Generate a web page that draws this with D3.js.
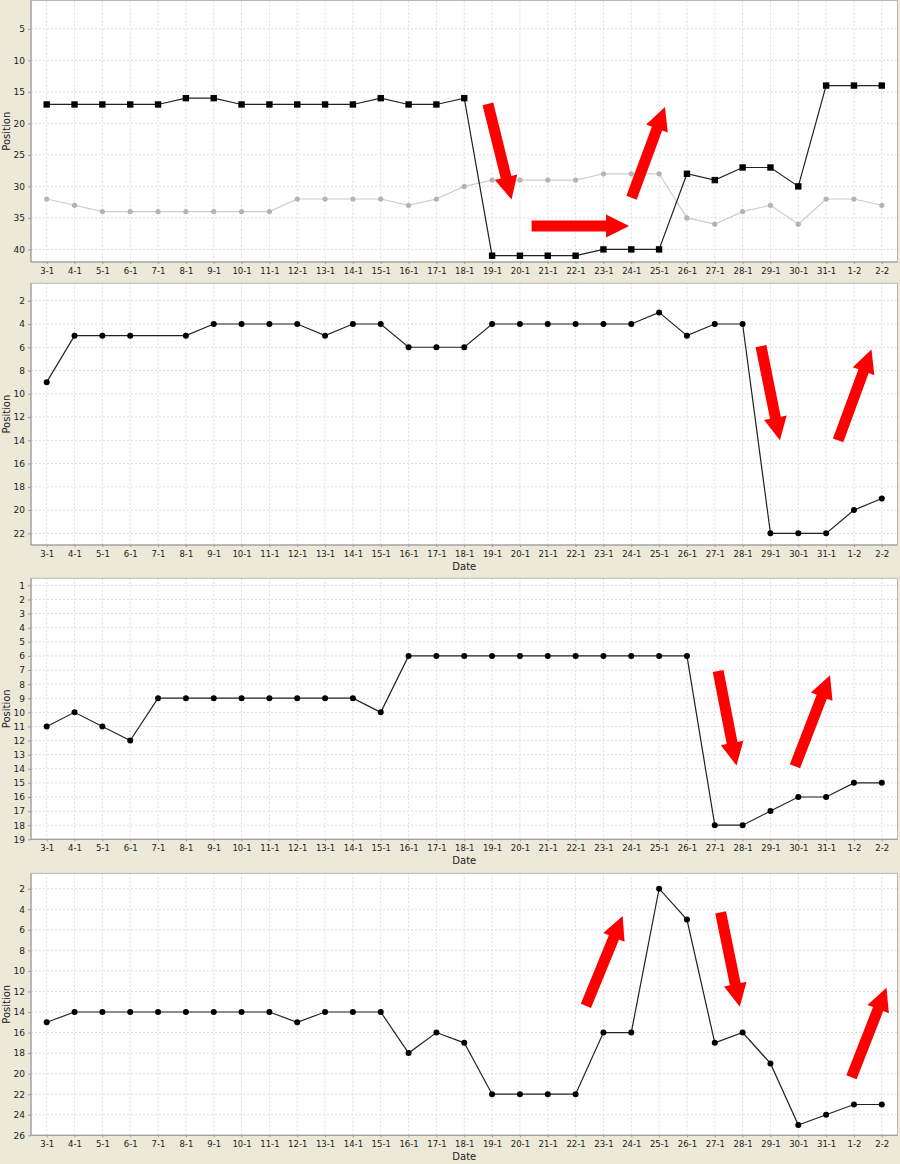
<!DOCTYPE html>
<html>
<head>
<meta charset="utf-8">
<script src="https://cdn.jsdelivr.net/npm/d3@7"></script>
<style>
  html, body { margin: 0; padding: 0; background: #ECE9D8; }
  svg { display: block; }
  text { font-family: "DejaVu Sans", "Liberation Sans", sans-serif; }
</style>
</head>
<body>
<svg id="chart" width="900" height="1164"></svg>
<script>
// ---------- DATA ----------
const categories = ["3-1","4-1","5-1","6-1","7-1","8-1","9-1","10-1","11-1","12-1","13-1","14-1","15-1","16-1","17-1","18-1","19-1","20-1","21-1","22-1","23-1","24-1","25-1","26-1","27-1","28-1","29-1","30-1","31-1","1-2","2-2"];

// Panel 1 (two series)
const panel1Black = [17,17,17,17,17,16,16,17,17,17,17,17,16,17,17,16,41,41,41,41,40,40,40,28,29,27,27,30,14,14,14];
const panel1Grey  = [32,33,34,34,34,34,34,34,34,32,32,32,32,33,32,30,29,29,29,29,28,28,28,35,36,34,33,36,32,32,33];
// Panel 2 (7-1 missing)
const panel2Values = [9,5,5,5,null,5,4,4,4,4,5,4,4,6,6,6,4,4,4,4,4,4,3,5,4,4,22,22,22,20,19];
// Panel 3
const panel3Values = [11,10,11,12,9,9,9,9,9,9,9,9,10,6,6,6,6,6,6,6,6,6,6,6,18,18,17,16,16,15,15];
// Panel 4
const panel4Values = [15,14,14,14,14,14,14,14,14,15,14,14,14,18,16,17,22,22,22,22,16,16,2,5,17,16,19,25,24,23,23];

// Tick labels
const yTicks1 = [5,10,15,20,25,30,35,40];
const yTicks2 = [2,4,6,8,10,12,14,16,18,20,22];
const yTicks3 = [1,2,3,4,5,6,7,8,9,10,11,12,13,14,15,16,17,18,19];
const yTicks4 = [2,4,6,8,10,12,14,16,18,20,22,24,26];

// Annotation arrows: [startIndex, startValue, tipIndex, tipValue]
const arrows1 = [[15.85,16.9,16.70,32.1],[17.42,36.3,20.92,36.3],[21.01,31.8,22.21,17.4]];
const arrows2 = [[25.66,5.9,26.34,14.0],[28.43,14.0,29.63,6.2]];
const arrows3 = [[24.12,7.07,24.78,13.77],[26.88,13.82,28.14,7.37]];
const arrows4 = [[19.37,13.41,20.69,4.66],[24.21,4.30,24.90,13.48],[28.91,20.35,30.17,11.63]];

// ---------- LAYOUT ----------
const svg = d3.select("#chart");
const plotLeft = 31, plotRight = 897.5;

const panels = [
  { top: 0.5,   bottom: 262,    domain: [0.5, 42], ticks: yTicks1, date: false,
    series: [
      { values: panel1Grey,  color: "#cccccc", marker: "#b4b4b4", shape: "circle", r: 2.6, width: 1.2 },
      { values: panel1Black, color: "#222", marker: "#000", shape: "square", r: 3.2, width: 1.2 }
    ], arrows: arrows1 },
  { top: 283.3, bottom: 545,    domain: [0.5, 23], ticks: yTicks2, date: true,
    series: [{ values: panel2Values, color: "#222", marker: "#000", shape: "circle", r: 3, width: 1.2 }], arrows: arrows2 },
  { top: 578.3, bottom: 839.3,  domain: [0.5, 19], ticks: yTicks3, date: true,
    series: [{ values: panel3Values, color: "#222", marker: "#000", shape: "circle", r: 3, width: 1.2 }], arrows: arrows3 },
  { top: 873.3, bottom: 1135.3, domain: [0.5, 26], ticks: yTicks4, date: true,
    series: [{ values: panel4Values, color: "#222", marker: "#000", shape: "circle", r: 3, width: 1.2 }], arrows: arrows4 }
];

const x = d3.scalePoint().domain(categories).range([plotLeft, plotRight]).padding(0.564);
const step = x.step();
const xIdx = i => x(categories[0]) + i * step;

panels.forEach(p => {
  const g = svg.append("g");
  const y = d3.scaleLinear().domain(p.domain).range([p.top, p.bottom]);

  g.append("rect").attr("x", plotLeft).attr("y", p.top)
    .attr("width", plotRight - plotLeft).attr("height", p.bottom - p.top)
    .attr("fill", "#fff");

  g.append("g").selectAll("line").data(categories).join("line")
    .attr("x1", d => x(d)).attr("x2", d => x(d))
    .attr("y1", p.top).attr("y2", p.bottom)
    .attr("stroke", "#dcdcdc").attr("stroke-width", 1).attr("stroke-dasharray", "2,2");
  g.append("g").selectAll("line").data(p.ticks).join("line")
    .attr("x1", plotLeft).attr("x2", plotRight)
    .attr("y1", d => y(d)).attr("y2", d => y(d))
    .attr("stroke", "#dcdcdc").attr("stroke-width", 1).attr("stroke-dasharray", "2,2");

  g.append("rect").attr("x", plotLeft).attr("y", p.top)
    .attr("width", plotRight - plotLeft).attr("height", p.bottom - p.top)
    .attr("fill", "none").attr("stroke", "#b8b8b8").attr("stroke-width", 1);

  const yAxis = d3.axisLeft(y).tickValues(p.ticks).tickSize(3).tickPadding(3);
  const ya = g.append("g").attr("transform", `translate(${plotLeft},0)`).call(yAxis);
  ya.select(".domain").attr("stroke", "#999").attr("d", `M0,${p.top}V${p.bottom}`);
  ya.selectAll(".tick line").attr("stroke", "#999");
  ya.selectAll(".tick text").attr("fill", "#222").style("font-size", "9px").style("font-family", "'DejaVu Sans', sans-serif");

  const xAxis = d3.axisBottom(x).tickSize(2).tickPadding(4);
  const xa = g.append("g").attr("transform", `translate(0,${p.bottom})`).call(xAxis);
  xa.select(".domain").attr("stroke", "#999").attr("d", `M${plotLeft},0H${plotRight}`);
  xa.selectAll(".tick line").attr("stroke", "#999");
  xa.selectAll(".tick text").attr("fill", "#222").style("font-size", "8.5px").style("font-family", "'DejaVu Sans', sans-serif");

  g.append("text").attr("transform", `translate(10,${(p.top + p.bottom) / 2}) rotate(-90)`)
    .attr("text-anchor", "middle").attr("fill", "#222").style("font-size", "10px").text("Position");
  if (p.date) {
    g.append("text").attr("x", (plotLeft + plotRight) / 2).attr("y", p.bottom + 25)
      .attr("text-anchor", "middle").attr("fill", "#222").style("font-size", "10px").text("Date");
  }

  p.series.forEach(s => {
    const pts = categories.map((c, i) => ({ c, v: s.values[i] })).filter(d => d.v !== null);
    const line = d3.line().x(d => x(d.c)).y(d => y(d.v));
    g.append("path").datum(pts).attr("d", line)
      .attr("fill", "none").attr("stroke", s.color).attr("stroke-width", s.width);
    if (s.shape === "square") {
      g.append("g").selectAll("rect").data(pts).join("rect")
        .attr("x", d => x(d.c) - s.r).attr("y", d => y(d.v) - s.r)
        .attr("width", s.r * 2).attr("height", s.r * 2).attr("fill", s.marker);
    } else {
      g.append("g").selectAll("circle").data(pts).join("circle")
        .attr("cx", d => x(d.c)).attr("cy", d => y(d.v)).attr("r", s.r).attr("fill", s.marker);
    }
  });

  const shaftHalf = 5.5, headHalf = 11.5, headLen = 23;
  p.arrows.forEach(a => {
    const sx = xIdx(a[0]), sy = y(a[1]), tx = xIdx(a[2]), ty = y(a[3]);
    const dx = tx - sx, dy = ty - sy, len = Math.hypot(dx, dy);
    const ux = dx / len, uy = dy / len, nx = -uy, ny = ux;
    const bx = tx - ux * headLen, by = ty - uy * headLen;
    const pts = [
      [sx + nx * shaftHalf, sy + ny * shaftHalf],
      [bx + nx * shaftHalf, by + ny * shaftHalf],
      [bx + nx * headHalf, by + ny * headHalf],
      [tx, ty],
      [bx - nx * headHalf, by - ny * headHalf],
      [bx - nx * shaftHalf, by - ny * shaftHalf],
      [sx - nx * shaftHalf, sy - ny * shaftHalf]
    ];
    g.append("polygon").attr("points", pts.map(q => q.join(",")).join(" ")).attr("fill", "#ff0000");
  });
});
</script>
</body>
</html>
